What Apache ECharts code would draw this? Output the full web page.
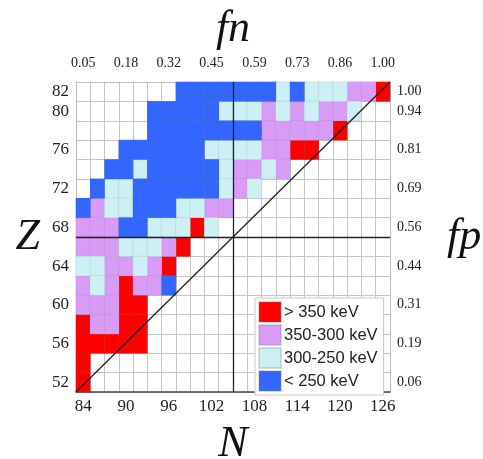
<!DOCTYPE html>
<html>
<head>
<meta charset="utf-8">
<script src="https://cdn.jsdelivr.net/npm/echarts@6/dist/echarts.min.js"></script>
<style>
  html, body { margin: 0; padding: 0; background: #fff; }
  #main { width: 483px; height: 459px; }
</style>
</head>
<body>
<div id="main"></div>
<script>
// neutron number N (columns) and proton number Z (rows)
var nValues = [84, 86, 88, 90, 92, 94, 96, 98, 100, 102, 104, 106, 108, 110, 112, 114, 116, 118, 120, 122, 124, 126];
var zValues = [52, 54, 56, 58, 60, 62, 64, 66, 68, 70, 72, 74, 76, 78, 80, 82];
var nTicks = [84, 90, 96, 102, 108, 114, 120, 126];
var fnLabels = ['0.05', '0.18', '0.32', '0.45', '0.59', '0.73', '0.86', '1.00'];
var zTicks = [52, 56, 60, 64, 68, 72, 76, 80, 82];
var fpLabels = ['0.06', '0.19', '0.31', '0.44', '0.56', '0.69', '0.81', '0.94', '1.00'];

// one string per Z row, top (82) to bottom (52); one char per N column
// r: > 350 keV, p: 350-300, c: 300-250, b: < 250, . : none
var cellRows = [
  '.......bbbbbbbcbcccppr', // 82
  '.....bbbbbcccpcpcppc..', // 80
  '.....bbbbbbbbpppppr...', // 78
  '...bbbbbbccccpprr.....', // 76
  '..bbcbbbbbcppcp.......', // 74
  '.bccbbbbbbcpc.........', // 72
  'bpccbbbccpp...........', // 70
  'pppbbcccrc............', // 68
  'pppcccpr..............', // 66
  'ccppcpr...............', // 64
  'pcprppb...............', // 62
  'ppprr.................', // 60
  'rpprr.................', // 58
  'rrrrr.................', // 56
  'r.....................', // 54
  'r.....................'  // 52
];
var classKeys = ['r', 'p', 'c', 'b'];
var classNames = ['> 350 keV', '350-300 keV', '300-250 keV', '< 250 keV'];
var classColors = ['#ff0000', '#d89cf6', '#cdf0f5', '#3366ff'];

var chart = echarts.init(document.getElementById('main'));

var serif = 'Liberation Serif';
var gridLine = { show: true, interval: 0, lineStyle: { color: '#c6c6c6', width: 1 } };
var nameStyle = { fontFamily: serif, fontStyle: 'italic', fontSize: 44, color: '#111' };

var series = classKeys.map(function (k, ci) {
  var data = [];
  cellRows.forEach(function (row, r) {
    var zi = zValues.length - 1 - r;
    for (var i = 0; i < row.length; i++) {
      if (row[i] === k) data.push([i, zi, ci]);
    }
  });
  return {
    name: classNames[ci],
    type: 'heatmap',
    xAxisIndex: 0,
    yAxisIndex: 0,
    data: data,
    itemStyle: { color: classColors[ci], borderColor: 'rgba(120,120,120,0.25)', borderWidth: 0.5 },
    emphasis: { disabled: true }
  };
});

// diagonal and the two centre lines, drawn on hidden value axes spanning the grid
series.push({
  type: 'line',
  xAxisIndex: 2,
  yAxisIndex: 2,
  data: [[83, 51], [127, 83]],
  symbol: 'none',
  silent: true,
  z: 10,
  lineStyle: { color: '#222', width: 1.3 },
  markLine: {
    symbol: 'none',
    silent: true,
    label: { show: false },
    lineStyle: { color: '#222', width: 1.3, type: 'solid' },
    data: [{ xAxis: 105 }, { yAxis: 67 }]
  }
});

var option = {
  animation: false,
  grid: { left: 76, top: 82, width: 314, height: 310, containLabel: false, outerBoundsMode: 'none' },
  legend: {
    data: classNames,
    orient: 'vertical',
    left: 255,
    top: 298,
    icon: 'rect',
    itemWidth: 22,
    itemHeight: 20,
    itemGap: 1,
    padding: [3, 6, 3, 3],
    backgroundColor: '#fff',
    borderColor: '#c8c8c8',
    borderWidth: 1,
    selectedMode: false,
    textStyle: { fontFamily: 'Liberation Sans', fontSize: 16.5, color: '#222', padding: [0, 0, 0, -2] }
  },
  xAxis: [
    {
      type: 'category',
      position: 'bottom',
      data: nValues,
      name: 'N',
      nameLocation: 'middle',
      nameGap: 30,
      nameTextStyle: nameStyle,
      axisLine: { lineStyle: { color: '#444', width: 1.5 } },
      axisTick: { show: false },
      axisLabel: {
        interval: function (i, v) { return nTicks.indexOf(+v) >= 0; },
        fontFamily: serif, fontSize: 17, color: '#222', margin: 6, hideOverlap: false
      },
      splitLine: gridLine
    },
    {
      type: 'category',
      position: 'top',
      data: nValues,
      name: 'fn',
      nameLocation: 'middle',
      nameGap: 31,
      nameMoveOverlap: false,
      nameTextStyle: nameStyle,
      axisLine: { lineStyle: { color: '#bbb' } },
      axisTick: { show: false },
      axisLabel: {
        interval: function (i, v) { return nTicks.indexOf(+v) >= 0; },
        formatter: function (v) { return fnLabels[nTicks.indexOf(+v)]; },
        fontFamily: serif, fontSize: 14, color: '#222', margin: 12, hideOverlap: false
      }
    },
    { type: 'value', min: 83, max: 127, show: false }
  ],
  yAxis: [
    {
      type: 'category',
      position: 'left',
      data: zValues,
      name: 'Z',
      nameLocation: 'middle',
      nameRotate: 0,
      nameGap: 36,
      nameTextStyle: nameStyle,
      axisLine: { lineStyle: { color: '#bbb' } },
      axisTick: { show: false },
      axisLabel: {
        interval: function (i, v) { return zTicks.indexOf(+v) >= 0; },
        fontFamily: serif, fontSize: 17, color: '#222', margin: 7, hideOverlap: false
      },
      splitLine: gridLine
    },
    {
      type: 'category',
      position: 'right',
      data: zValues,
      name: 'fp',
      nameLocation: 'middle',
      nameRotate: 0,
      nameGap: 57,
      nameTextStyle: nameStyle,
      axisLine: { lineStyle: { color: '#bbb' } },
      axisTick: { show: false },
      axisLabel: {
        interval: function (i, v) { return zTicks.indexOf(+v) >= 0; },
        formatter: function (v) { return fpLabels[zTicks.indexOf(+v)]; },
        fontFamily: serif, fontSize: 14, color: '#222', margin: 7, hideOverlap: false
      }
    },
    { type: 'value', min: 51, max: 83, show: false }
  ],
  series: series
};

chart.setOption(option);
</script>
</body>
</html>
